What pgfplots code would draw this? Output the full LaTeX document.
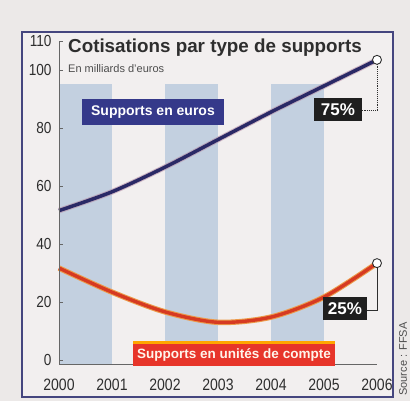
\documentclass[border=0pt]{standalone}
\usepackage{fontspec}
\setmainfont{Liberation Sans}
\newfontfamily\cond{Liberation Sans}[FakeStretch=0.85]
\usepackage{pgfplots}
\pgfplotsset{compat=1.18}
\definecolor{paper}{HTML}{ECE9E8}
\definecolor{innerbg}{HTML}{F2EFEF}
\definecolor{framec}{HTML}{45467F}
\definecolor{stripe}{HTML}{C3D0E0}
\definecolor{navy}{HTML}{2A2966}
\definecolor{halo}{HTML}{B58FA6}
\definecolor{boxnavy}{HTML}{35398A}
\definecolor{redl}{HTML}{D63A22}
\definecolor{orangel}{HTML}{EC9A4A}
\definecolor{redbox}{HTML}{E7352A}
\definecolor{txt}{HTML}{2E2E2E}
\begin{document}
\begin{tikzpicture}
\fill[paper] (0pt,0pt) rectangle (410pt,401pt);
\useasboundingbox (0pt,0pt) rectangle (410pt,401pt);
\fill[innerbg] (22pt,4pt) rectangle (393pt,369pt);
\begin{axis}[
  at={(59pt,36.65pt)}, anchor=south west, scale only axis,
  width=318pt, height=323.35pt,
  xmin=2000, xmax=2006, ymin=-1.5, ymax=110,
  axis lines=left,
  axis line style={draw=gray!80!black, line width=0.6pt, -},
  axis on top,
  xtick={2000,2001,2002,2003,2004,2005,2006},
  ytick={0,20,40,60,80,100,110},
  xtick style={draw=none},
  ytick style={draw=gray!80!black, line width=0.6pt},
  tick align=inside, major tick length=4pt,
  /pgf/number format/assume math mode=true,
  xticklabel style={/pgf/number format/1000 sep={}, font=\cond\fontsize{16.5}{16.5}\selectfont, text=txt, yshift=-11pt},
  yticklabel style={font=\cond\fontsize{16}{16}\selectfont, text=txt, xshift=-4pt},
  clip=false,
]
\addplot[fill=stripe, draw=none] coordinates {(2000,-1.5) (2000,95) (2001,95) (2001,-1.5)} -- cycle;
\addplot[fill=stripe, draw=none] coordinates {(2002,-1.5) (2002,95) (2003,95) (2003,-1.5)} -- cycle;
\addplot[fill=stripe, draw=none] coordinates {(2004,-1.5) (2004,95) (2005,95) (2005,-1.5)} -- cycle;
% Supports en euros
\addplot[halo, line width=5.5pt, smooth, opacity=0.6] coordinates {(2000,51.5) (2001,58) (2002,66.5) (2003,76) (2004,85.5) (2005,94.5) (2006,103.5)};
\addplot[navy, line width=3.5pt, smooth] coordinates {(2000,51.5) (2001,58) (2002,66.5) (2003,76) (2004,85.5) (2005,94.5) (2006,103.5)};
% Supports en unites de compte
\addplot[orangel, line width=5.5pt, smooth] coordinates {(2000,31.7) (2001,23.4) (2002,16.6) (2003,13) (2004,14.8) (2005,21.7) (2006,33.4)};
\addplot[redl, line width=3.4pt, smooth] coordinates {(2000,31.7) (2001,23.4) (2002,16.6) (2003,13) (2004,14.8) (2005,21.7) (2006,33.4)};
\draw[txt, densely dotted, line width=0.9pt] (axis cs:2006,103.5) -- (axis cs:2006,86.2) -- (axis cs:2005.72,86.2);
\draw[txt, line width=0.9pt] (axis cs:2006,33.4) -- (axis cs:2006,17.2) -- (axis cs:2005.81,17.2);
\addplot[only marks, mark=*, mark size=4.5pt, mark options={fill=white, draw=txt, line width=0.9pt}] coordinates {(2006,103.5) (2006,33.4)};
\end{axis}
\draw[framec, line width=2pt] (22pt,4pt) rectangle (393pt,369pt);
\node[anchor=base west, font=\bfseries\fontsize{18.8}{20}\selectfont, text=txt, inner sep=0pt] at (68pt,348pt) {Cotisations par type de supports};
\node[anchor=base west, font=\fontsize{11}{12}\selectfont, text=txt!85, inner sep=0pt] at (68pt,328pt) {En milliards d'euros};
\node[fill=boxnavy, text=white, font=\bfseries\fontsize{14}{14}\selectfont, minimum width=142pt, minimum height=26pt, inner sep=0pt] at (153pt,289pt) {Supports en euros};
\node[fill=black!88, text=white, font=\bfseries\fontsize{17}{17}\selectfont, minimum width=48pt, minimum height=23pt, inner sep=0pt] at (338pt,291.5pt) {75\%};
\node[fill=black!88, text=white, font=\bfseries\fontsize{17}{17}\selectfont, minimum width=44pt, minimum height=23pt, inner sep=0pt] at (345pt,92.5pt) {25\%};
\fill[orange!70!yellow] (133pt,35pt) rectangle (335pt,59.5pt);
\node[fill=redbox, text=white!92!orange, font=\bfseries\fontsize{13.5}{14}\selectfont, minimum width=202pt, minimum height=22pt, inner sep=0pt] at (234pt,46pt) {Supports en unités de compte};
\node[rotate=90, font=\fontsize{11}{11}\selectfont, text=txt!85, inner sep=0pt] at (403pt,42pt) {Source : FFSA};
\end{tikzpicture}
\end{document}
